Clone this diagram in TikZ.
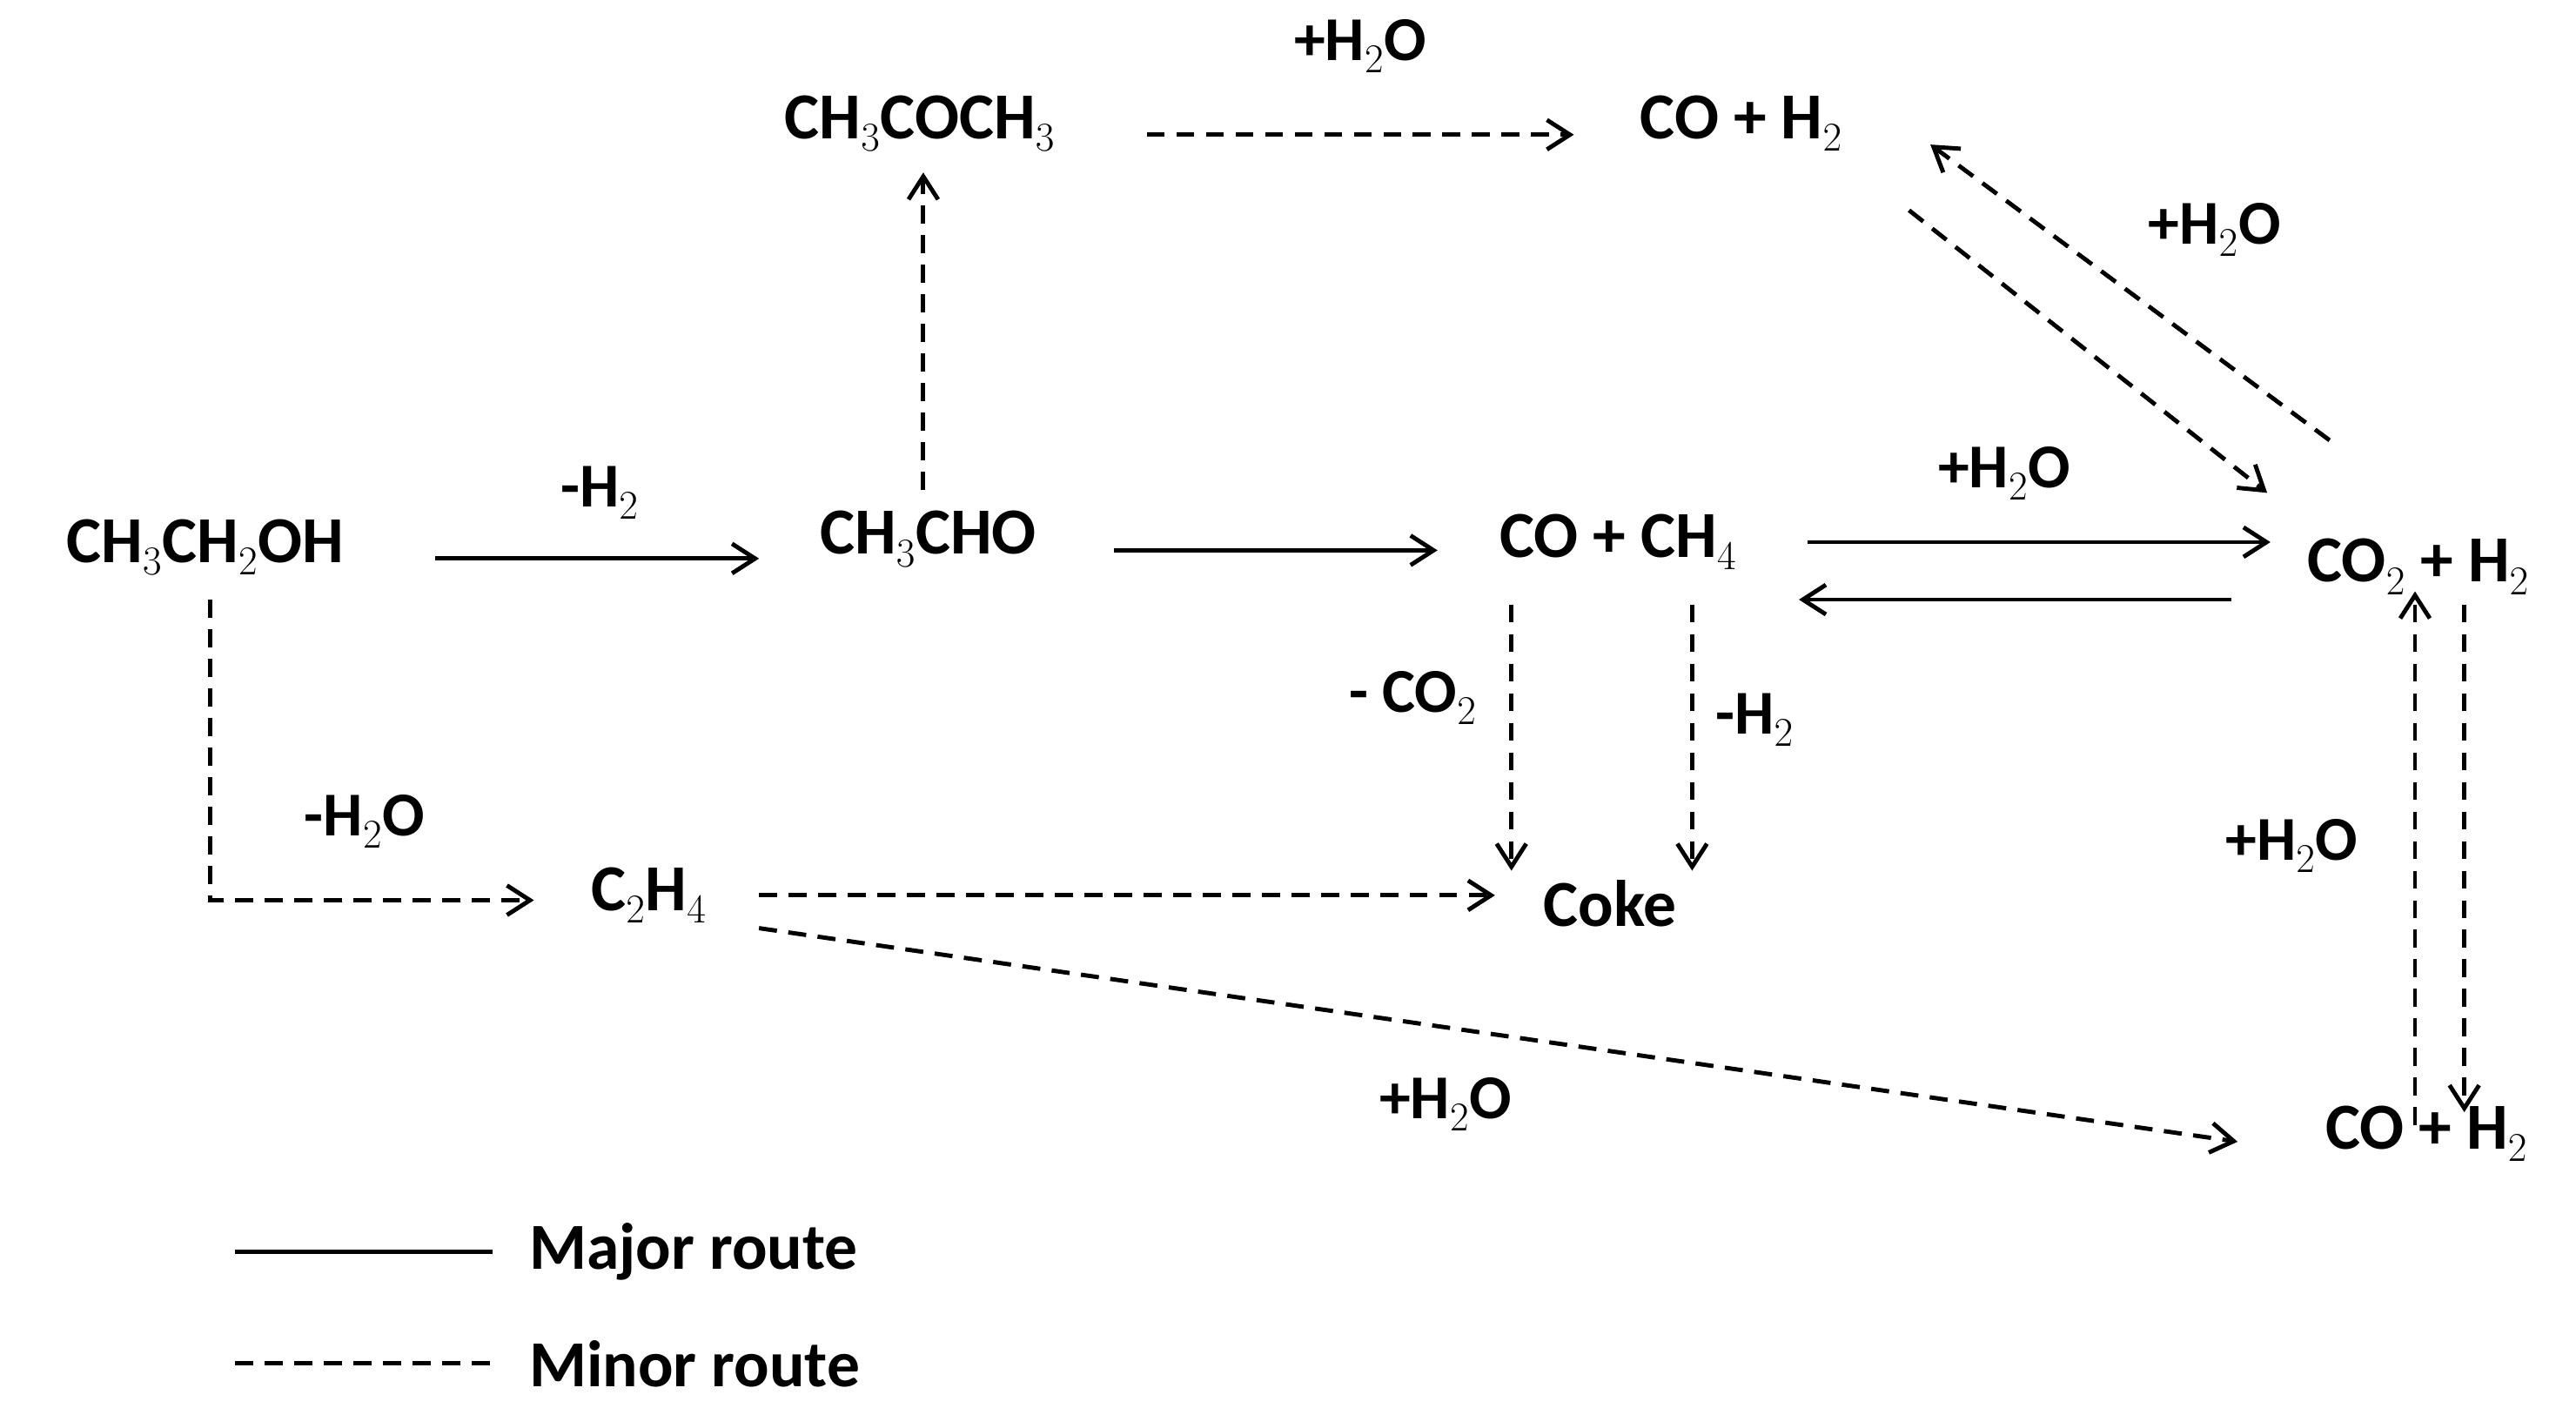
\documentclass[tikz,border=0pt]{standalone}
\usepackage{fontspec}
\setmainfont{Carlito}
\usetikzlibrary{arrows.meta}
\begin{document}
\begin{tikzpicture}[x=1pt,y=-1pt,
  t/.style={font=\fontsize{40}{46}\selectfont\bfseries,inner sep=0pt},
  lb/.style={font=\fontsize{38}{44}\selectfont\bfseries,inner sep=0pt},
  ar/.style={line width=2.6pt,-{Straight Barb[length=14pt,width=18pt,line width=2.6pt]}},
  solidar/.style={ar},
  dashar/.style={ar,dash pattern=on 11pt off 7pt},
  ln/.style={line width=2.6pt}]
\useasboundingbox (0,0) rectangle (1568,857);
\node[t] (a) at (125,333) {CH$_3$CH$_2$OH};
\node[t] (b) at (565,328) {CH$_3$CHO};
\node[t] (c) at (560,75) {CH$_3$COCH$_3$};
\node[t] (d) at (1060,75) {CO + H$_2$};
\node[t] (e) at (985,330) {CO + CH$_4$};
\node[t] (f) at (1472,345) {CO$_2$ + H$_2$};
\node[t] (g) at (395,545) {C$_2$H$_4$};
\node[t] (h) at (980,550) {Coke};
\node[t] (i) at (1477,690) {CO + H$_2$};
\draw[solidar] (265,340) -- (462,340);
\node[lb] at (365,300) {-H$_2$};
\draw[solidar] (678,335) -- (875,335);
\draw[dashar] (562,298) -- (562,105);
\draw[dashar] (698,82) -- (958,82);
\node[lb] at (828,28) {+H$_2$O};
\draw[dashar] (1162,128) -- (1380,300);
\draw[dashar] (1418,268) -- (1175,88);
\node[lb] at (1348,140) {+H$_2$O};
\draw[solidar] (1100,330) -- (1382,330);
\node[lb] at (1220,288) {+H$_2$O};
\draw[solidar] (1358,365) -- (1095,365);
\draw[dashar] (920,368) -- (920,530);
\node[lb] at (860,425) {- CO$_2$};
\draw[dashar] (1030,368) -- (1030,530);
\node[lb] at (1068,438) {-H$_2$};
\draw[dashar] (128,365) -- (128,548) -- (325,548);
\node[lb] at (222,500) {-H$_2$O};
\draw[dashar] (462,545) -- (910,545);
\draw[dashar] (462,565) -- (1362,695);
\node[lb] at (880,672) {+H$_2$O};
\draw[dashar] (1470,685) -- (1470,360);
\draw[dashar] (1500,368) -- (1500,677);
\node[lb] at (1395,515) {+H$_2$O};
\draw[ln] (143,762) -- (300,762);
\node[t,anchor=west] at (322,762) {Major route};
\draw[ln,dash pattern=on 11pt off 7pt] (143,830) -- (300,830);
\node[t,anchor=west] at (322,830) {Minor route};
\end{tikzpicture}
\end{document}
